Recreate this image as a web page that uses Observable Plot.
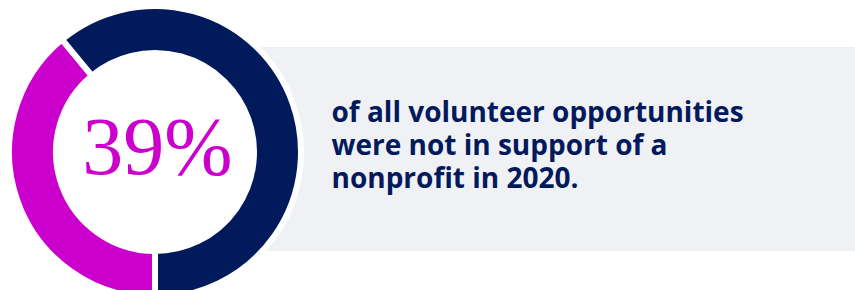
<!DOCTYPE html>
<html>
<head>
<meta charset="utf-8">
<script src="https://cdn.jsdelivr.net/npm/d3@7"></script>
<script src="https://cdn.jsdelivr.net/npm/@observablehq/plot@0.6"></script>
<style>
  html, body { margin: 0; padding: 0; background: #ffffff; }
  #chart svg { display: block; }
</style>
</head>
<body>
<div id="chart"></div>
<script>
// Data
const categories = ["Not in support of a nonprofit", "In support of a nonprofit"];
const shares = [39, 61];
const segmentColors = ["#cc00cc", "#011a5c"];
const headline = "39%";
const descriptionLines = [
  "of all volunteer opportunities",
  "were not in support of a",
  "nonprofit in 2020."
];

const slices = categories.map((c, i) => ({category: c, value: shares[i], color: segmentColors[i]}));

// Donut geometry
const cx = 155, cy = 152, outerR = 143, innerR = 102, gap = 6;

function donutMark(index, scales, values, dimensions, context) {
  const pie = d3.pie().value(d => d.value).sort(null).startAngle(Math.PI).endAngle(3 * Math.PI);
  const arc = d3.arc().innerRadius(innerR - gap / 2).outerRadius(outerR + gap / 2);
  const g = d3.create("svg:g")
    .attr("transform", `translate(${scales.x(cx)},${scales.y(cy)})`);
  g.append("circle").attr("r", outerR + gap / 2).attr("fill", "#ffffff");
  g.selectAll("path")
    .data(pie(slices))
    .join("path")
    .attr("d", arc)
    .attr("fill", d => d.data.color)
    .attr("stroke", "#ffffff")
    .attr("stroke-width", gap)
    .attr("stroke-linejoin", "miter");
  return g.node();
}

const chart = Plot.plot({
  width: 855,
  height: 290,
  margin: 0,
  x: {domain: [0, 855], axis: null},
  y: {domain: [0, 290], range: [0, 290], axis: null},
  style: {background: "#ffffff"},
  marks: [
    Plot.rect([0], {x1: 200, x2: 855, y1: 47, y2: 251, fill: "#f0f1f5"}),
    donutMark,
    Plot.text([headline], {
      x: 157, y: 173, text: d => d,
      fill: "#cc00cc", fontSize: 82, fontFamily: "Liberation Serif",
      textAnchor: "middle", lineAnchor: "bottom"
    }),
    Plot.text([descriptionLines.join("\n")], {
      x: 331, y: 187, text: d => d,
      fill: "#011a5c", fontSize: 28, fontWeight: 700, fontFamily: "Open Sans",
      textAnchor: "start", lineAnchor: "bottom", lineHeight: 32.75 / 28
    })
  ]
});
document.getElementById("chart").appendChild(chart);
</script>
</body>
</html>
